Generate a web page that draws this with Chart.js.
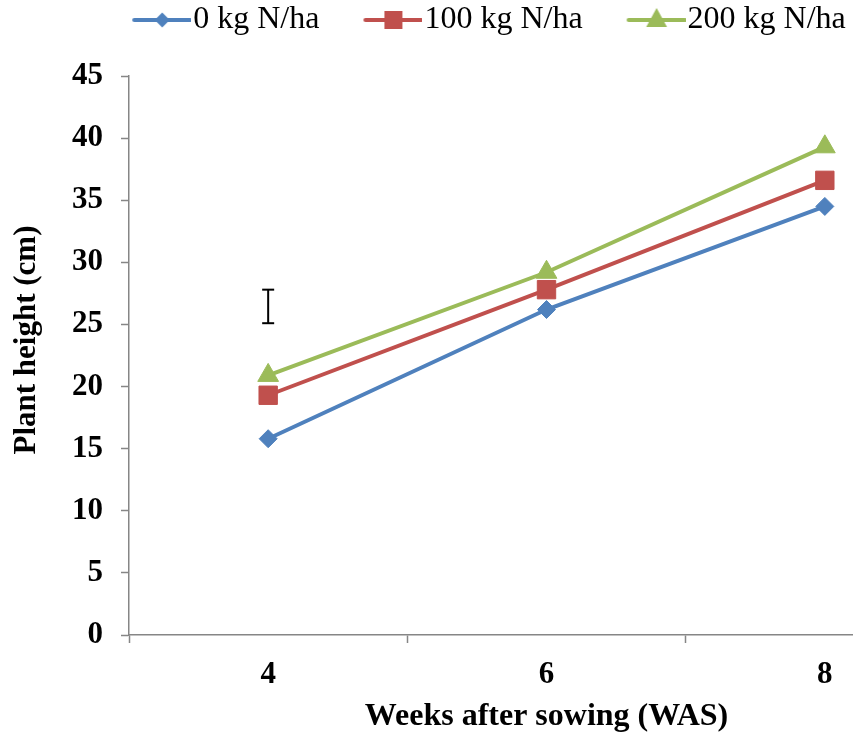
<!DOCTYPE html>
<html>
<head>
<meta charset="utf-8">
<script src="https://cdn.jsdelivr.net/npm/chart.js@4/dist/chart.umd.min.js"></script>
<style>
html,body{margin:0;padding:0;background:#fff;overflow:hidden;}
#wrap{width:853px;height:738px;position:relative;overflow:hidden;}
#c{position:absolute;left:-22px;top:0;}
</style>
</head>
<body>
<div id="wrap"><canvas id="c" width="986" height="738"></canvas></div>
<script>
// ---- data ----
const weeks = [4, 6, 8];
const seriesNames = ['0 kg N/ha', '100 kg N/ha', '200 kg N/ha'];
const n0 = [15.8, 26.2, 34.5];
const n100 = [19.3, 27.8, 36.6];
const n200 = [20.9, 29.2, 39.3];
const lsdWeek = [4, 4];
const lsdRange = [25.1, 27.8];
const yTicks = [0, 5, 10, 15, 20, 25, 30, 35, 40, 45];
const xTickLabels = ['4', '6', '8'];

// ---- style ----
const colors = ['#4F81BD', '#C0504D', '#9BBB59'];
const styles = ['rectRot', 'rect', 'triangle'];
const radii = [9, 13, 12];
const FONT = "'Liberation Serif', 'Times New Roman', serif";
const LEG_FONT = 32;

function toPts(xs, ys) { return xs.map((x, i) => ({x: x, y: ys[i]})); }

// legend images: line + marker, visible part at right side of image
const LB = 81, LW = LB + 2 * (LEG_FONT / 2 - 2), LH = 30;
function legendImg(idx) {
  const cv = document.createElement('canvas');
  cv.width = LW; cv.height = LH;
  const g = cv.getContext('2d');
  const x0 = LW - 57, x1 = LW - 1, cy = LH / 2, cx = (x0 + x1) / 2;
  g.strokeStyle = colors[idx]; g.lineWidth = 4; g.lineCap = 'round';
  g.beginPath(); g.moveTo(x0, cy); g.lineTo(x1, cy); g.stroke();
  g.fillStyle = colors[idx];
  g.beginPath();
  if (idx === 0) {
    const r = 7.5;
    g.moveTo(cx, cy - r); g.lineTo(cx + r, cy); g.lineTo(cx, cy + r); g.lineTo(cx - r, cy);
  } else if (idx === 1) {
    const s = 9;
    g.rect(cx - s, cy - s, 2 * s, 2 * s);
  } else {
    const r = 12;
    g.moveTo(cx, cy - r); g.lineTo(cx + r * 0.866, cy + r / 2 + 1); g.lineTo(cx - r * 0.866, cy + r / 2 + 1);
  }
  g.closePath(); g.fill();
  return cv;
}
const legendImgs = [0, 1, 2].map(legendImg);

const allSeries = [n0, n100, n200];
const datasets = allSeries.map((vals, i) => ({
  label: seriesNames[i],
  data: toPts(weeks, vals),
  borderColor: colors[i],
  backgroundColor: colors[i],
  borderWidth: 4,
  pointStyle: styles[i],
  pointRadius: radii[i],
  pointHoverRadius: radii[i],
  pointBackgroundColor: colors[i],
  pointBorderColor: colors[i],
  pointBorderWidth: 1,
  tension: 0,
  order: 3 - i
}));
datasets.push({
  label: 'LSD',
  data: toPts(lsdWeek, lsdRange),
  borderColor: '#000',
  backgroundColor: '#000',
  borderWidth: 2,
  pointStyle: 'line',
  pointRadius: 6,
  pointHoverRadius: 6,
  pointBorderColor: '#000',
  pointBorderWidth: 2,
  order: 0
});

const AXIS = '#868686';

new Chart(document.getElementById('c'), {
  type: 'line',
  data: { datasets: datasets },
  options: {
    responsive: false,
    animation: false,
    events: [],
    layout: { autoPadding: false, padding: { left: 0, right: 0, top: -4, bottom: 0 } },
    plugins: {
      tooltip: { enabled: false },
      subtitle: {
        display: true,
        text: '',
        position: 'top',
        weight: 500,
        font: { size: 10 },
        padding: { top: 0, bottom: 18 }
      },
      legend: {
        display: true,
        position: 'top',
        align: 'center',
        fullSize: true,
        labels: {
          usePointStyle: true,
          pointStyleWidth: LB,
          boxHeight: 30,
          padding: 8,
          color: '#000',
          font: { family: FONT, size: LEG_FONT },
          generateLabels: function (chart) {
            const items = Chart.defaults.plugins.legend.labels.generateLabels(chart);
            return items.filter(it => it.datasetIndex < 3)
              .sort((a, b) => a.datasetIndex - b.datasetIndex)
              .map(it => { it.pointStyle = legendImgs[it.datasetIndex]; return it; });
          }
        }
      }
    },
    scales: {
      x: {
        type: 'linear',
        min: 3,
        max: 9,
        afterBuildTicks: function (s) {
          s.ticks = [3, 4, 5, 6, 7, 8, 9].map(v => ({ value: v }));
        },
        afterFit: function (s) { s.height = 103; s.paddingRight = 0; s.paddingLeft = 0; },
        ticks: {
          autoSkip: false,
          maxRotation: 0,
          padding: 13,
          color: '#000',
          font: { family: FONT, size: 31, weight: 'bold' },
          callback: function (v) {
            const i = weeks.indexOf(v);
            return i >= 0 ? xTickLabels[i] : '';
          }
        },
        grid: {
          drawOnChartArea: false,
          drawTicks: true,
          tickLength: 8,
          tickWidth: 1.5,
          tickColor: function (ctx) {
            const v = ctx.tick ? ctx.tick.value : 0;
            return (v === 3 || v === 5 || v === 7 || v === 9) ? AXIS : 'rgba(0,0,0,0)';
          }
        },
        border: { display: true, color: AXIS, width: 1.5 },
        title: {
          display: true,
          text: 'Weeks after sowing (WAS)',
          color: '#000',
          font: { family: FONT, size: 32, weight: 'bold' },
          padding: { top: 0, bottom: 2 }
        }
      },
      y: {
        type: 'linear',
        min: 0,
        max: 45,
        afterBuildTicks: function (s) {
          s.ticks = yTicks.map(v => ({ value: v }));
        },
        afterFit: function (s) { s.width = 151; },
        ticks: {
          padding: 18,
          color: '#000',
          font: { family: FONT, size: 31, weight: 'bold' }
        },
        grid: {
          drawOnChartArea: false,
          drawTicks: true,
          tickLength: 8,
          tickWidth: 1.5,
          tickColor: AXIS
        },
        border: { display: true, color: AXIS, width: 1.5 },
        title: {
          display: true,
          text: '    Plant height (cm)',
          color: '#000',
          font: { family: FONT, size: 31, weight: 'bold' },
          padding: { top: 30, bottom: 0 }
        }
      }
    }
  }
});
</script>
</body>
</html>
